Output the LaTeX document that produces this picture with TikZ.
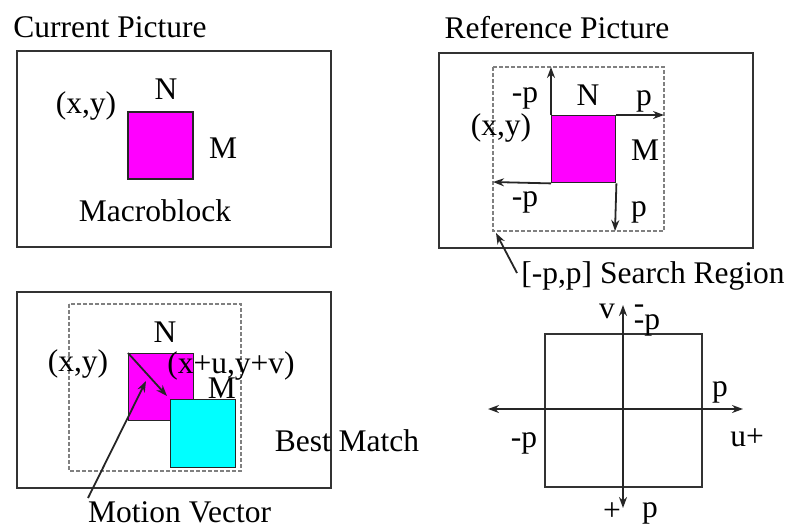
\documentclass[tikz,border=0pt]{standalone}
\usepackage{fontspec}
\setmainfont{Liberation Serif}
\usetikzlibrary{arrows.meta}
\definecolor{boxgray}{HTML}{333333}
\definecolor{dashgray}{HTML}{808080}
\definecolor{mag}{HTML}{FF00FF}
\definecolor{cyn}{HTML}{00FFFF}
\tikzset{
  frame/.style={draw=boxgray, line width=2.2pt},
  region/.style={draw=dashgray, line width=1.2pt, dash pattern=on 4pt off 2pt},
  block/.style={draw=black!85, line width=1.4pt},
  arr/.style={draw=black!85, line width=1.8pt, -{Stealth[length=11pt,width=8pt]}},
  darr/.style={draw=black!85, line width=1.8pt, {Stealth[length=11pt,width=8pt]}-{Stealth[length=11pt,width=8pt]}},
  lbl/.style={inner sep=0pt, font=\fontsize{31.5}{36}\selectfont},
}
\begin{document}
\begin{tikzpicture}[x=1pt,y=-1pt]
\useasboundingbox (0,0) rectangle (791,523);

% ---------- Panel 1: Current Picture ----------
\node[lbl] (t1) at (110,27) {Current Picture};
\draw[frame] (17,51) rectangle (331,247);
\draw[block, fill=mag] (128,112) rectangle (193,179);
\node[lbl] (xy1) at (86,106) {(x,y)};
\node[lbl] (n1) at (166,89) {N};
\node[lbl] (m1) at (223,148) {M};
\node[lbl] (macro) at (155,211) {Macroblock};

% ---------- Panel 2: Reference Picture ----------
\node[lbl] (t2) at (557,28) {Reference Picture};
\draw[frame] (439,53) rectangle (753,248);
\draw[region] (493,67) rectangle (664,231);
\node[block, fill=mag, minimum width=64pt, minimum height=67pt, inner sep=0pt, anchor=north west] (mb2) at (551,115) {};
\coordinate (up2) at (551,67);
\coordinate (right2) at (664,115);
\coordinate (left2) at (493,182);
\coordinate (down2) at (615,231);
\draw[arr] (mb2.north west) -- (up2);
\draw[arr] (mb2.north east) -- (right2);
\draw[arr] (mb2.south west) -- (left2);
\draw[arr] (mb2.south east) -- (down2);
\node[lbl] (mp2a) at (525,98) {-p};
\node[lbl] (n2) at (588,95) {N};
\node[lbl] (p2a) at (644,101) {p};
\node[lbl] (xy2) at (501,128) {(x,y)};
\node[lbl] (m2) at (645,150) {M};
\node[lbl] (mp2b) at (525,202) {-p};
\node[lbl] (p2b) at (639,212) {p};
\coordinate (sr) at (496,233);
\node[lbl] (srl) at (653,276) {[-p,p] Search Region};
\coordinate (srtail) at (517,273);
\draw[arr] (srtail) -- (sr);

% ---------- Panel 3: Best Match ----------
\draw[frame] (17,292) rectangle (331,488);
\draw[region] (69,304) rectangle (241,471);
\node[block, fill=mag, minimum width=65pt, minimum height=67pt, inner sep=0pt, anchor=north west] (mb3) at (128,353) {};
\node[lbl] (n3) at (165,332) {N};
\node[lbl] (xy3) at (78,364) {(x,y)};
\node[lbl] (m3) at (222,388) {M};
\node[block, fill=cyn, minimum width=65pt, minimum height=68pt, inner sep=0pt, anchor=north west] (cy) at (170,399) {};
\node[lbl] (xuv) at (231,366) {(x+u,y+v)};
\node[lbl] (best) at (347,441) {Best Match};
\draw[arr] (mb3.north west) -- ([shift={(-3pt,3pt)}]cy.north west);
\node[lbl, anchor=base west] (mv) at (88,522) {Motion Vector};
\coordinate (mvtail) at (88,498);
\coordinate (mvtip) at (146,381);
\draw[arr] (mvtail) -- (mvtip);

% ---------- Panel 4: search axes ----------
\draw[frame, line width=1.8pt] (545,334) rectangle (702,487);
\coordinate (hl) at (488,409);
\coordinate (hr) at (743,409);
\coordinate (vt) at (623,305);
\coordinate (vb) at (623,508);
\draw[darr] (hl) -- (hr);
\draw[darr] (vt) -- (vb);
\node[lbl] (v4) at (607,311) {v};
\node[lbl] (dash4) at (639,309) {-};
\node[lbl] (mp4t) at (647,325) {-p};
\node[lbl] (p4r) at (720,392) {p};
\node[lbl] (u4) at (747,438) {u+};
\node[lbl] (mp4l) at (524,443) {-p};
\node[lbl] (plus4) at (612,512) {+};
\node[lbl, anchor=base] (p4b) at (650,517) {p};
\end{tikzpicture}
\end{document}
